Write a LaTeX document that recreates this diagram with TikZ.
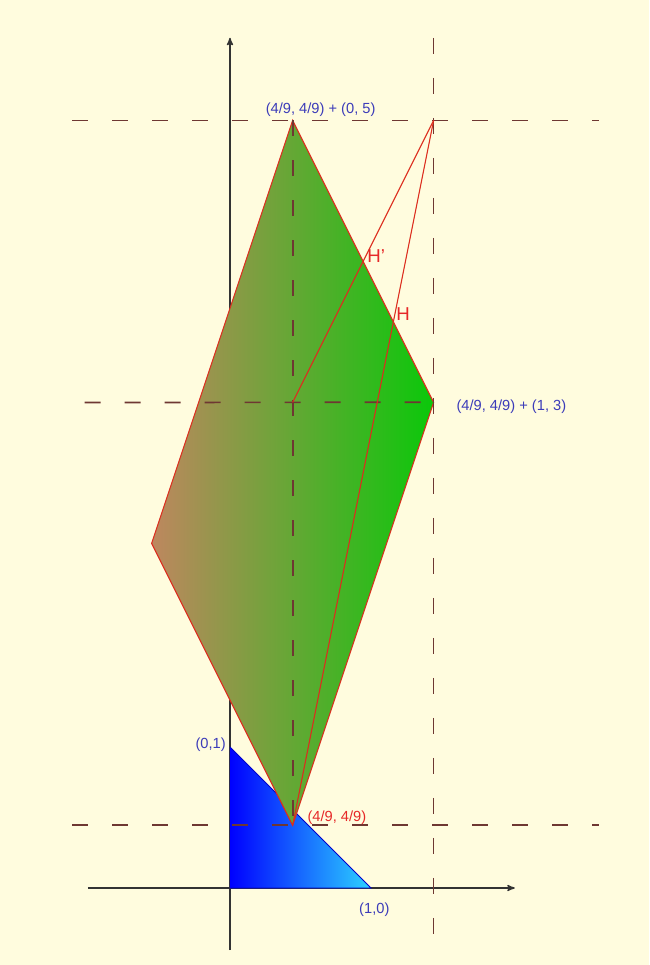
\documentclass[tikz,border=0pt]{standalone}
\usepackage{fontspec}
\setmainfont{Liberation Sans}
\usepackage{xcolor}
\usetikzlibrary{arrows, positioning, calc}

\definecolor{paper}{RGB}{255,252,222}
\definecolor{guide}{RGB}{110,55,50}
\definecolor{edgered}{RGB}{220,45,30}
\definecolor{lblue}{RGB}{60,60,185}
\definecolor{lred}{RGB}{230,40,40}
\definecolor{brownish}{RGB}{190,135,95}
\definecolor{brightgreen}{RGB}{10,200,10}
\definecolor{lightcyan}{RGB}{45,210,255}

\begin{document}
\begin{tikzpicture}[
    x=105.75pt, y=105.75pt,
    guideline/.style={dashed, dash pattern=on 12pt off 18pt, color=guide, line width=1.3pt},
    axis/.style={->, >=stealth', line width=1pt, color=black!80},
    edge/.style={draw=edgered, line width=0.8pt},
    blabel/.style={text=lblue, font=\fontsize{11}{12}\selectfont, inner sep=1pt},
    rlabel/.style={text=lred, font=\fontsize{11}{12}\selectfont, inner sep=1pt},
    hlabel/.style={text=lred, font=\fontsize{14}{15}\selectfont, inner sep=1pt}
]
    % page
    \fill[paper] (-1.631,-0.546) rectangle (2.972,6.298);
    \useasboundingbox (-1.631,-0.546) rectangle (2.972,6.298);

    \coordinate (O) at (0,0);
    \coordinate (X1) at (1,0);
    \coordinate (Y1) at (0,1);
    \coordinate (P) at (4/9,4/9);
    \coordinate (Q) at ($(P)+(1,3)$);
    \coordinate (T) at ($(P)+(0,5)$);
    \coordinate (L) at ($(P)+(-1,2)$);
    \coordinate (C) at ($(P)+(0,3)$);
    \coordinate (R) at ($(P)+(1,5)$);
    \coordinate (Hp) at ($(P)+(0.5,4)$);
    \coordinate (H) at ($(P)+(5/7,25/7)$);

    % axes
    \coordinate (xa) at (-1.007,0);
    \coordinate (xb) at (2.02,0);
    \coordinate (ya) at (0,-0.44);
    \coordinate (yb) at (0,6.03);
    \draw[axis] (xa) -- (xb);
    \draw[axis] (ya) -- (yb);

    % triangle
    \shade[left color=blue, right color=lightcyan] (O) -- (X1) -- (Y1) -- cycle;
    \draw[blue!80!black, line width=0.6pt] (O) -- (X1) -- (Y1);

    % parallelogram
    \shade[left color=brownish, right color=brightgreen] (P) -- (Q) -- (T) -- (L) -- cycle;
    \draw[edge] (P) -- (Q) -- (T) -- (L) -- cycle;

    % guides
    \coordinate (g1a) at (-1.12,5.444);
    \coordinate (g1b) at (2.62,5.444);
    \coordinate (g2a) at (-1.03,3.444);
    \coordinate (g3a) at (-1.12,4/9);
    \coordinate (g3b) at (2.62,4/9);
    \coordinate (g4a) at (1.444,6.03);
    \coordinate (g4b) at (1.444,-0.475);
    \draw[guideline] (g1a) -- (g1b);
    \draw[guideline] (g2a) -- (Q);
    \draw[guideline] (g3a) -- (g3b);
    \draw[guideline] (T) -- (P);
    \draw[guideline] (g4a) -- (g4b);

    \draw[edge] (P) -- (R);
    \draw[edge] (C) -- (R);

    \node[blabel, above=2pt of T, xshift=21pt] (lT) {(4/9, 4/9) + (0, 5)};
    \node[blabel, right=16pt of Q, yshift=-3pt] (lQ) {(4/9, 4/9) + (1, 3)};
    \node[blabel, left=2pt of Y1, yshift=2pt] (lY) {(0,1)};
    \node[blabel, below right=10pt and -10pt of X1] (lX) {(1,0)};
    \node[rlabel, right=10pt of P, yshift=6pt] (lP) {(4/9, 4/9)};
    \node[hlabel, right=2pt of Hp, yshift=4pt] (lHp) {H'};
    \node[hlabel, right=1pt of H, yshift=6pt] (lH) {H};
\end{tikzpicture}
\end{document}
